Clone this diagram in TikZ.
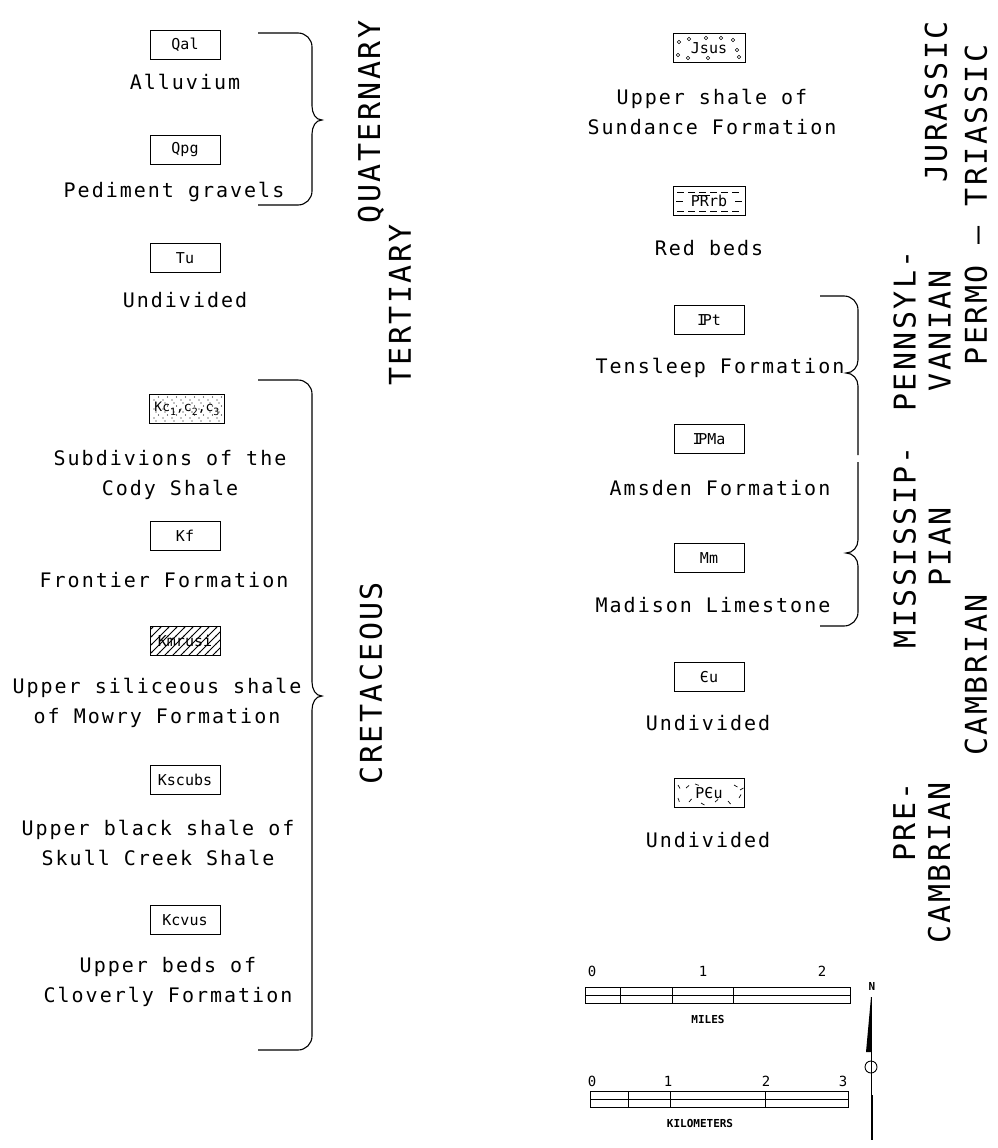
\documentclass[tikz,border=0pt]{standalone}
\usepackage{fontspec}
\setmainfont{DejaVu Sans}
\newfontfamily\descfont{DejaVu Sans Mono}[LetterSpace=10]
\newfontfamily\erafont{DejaVu Sans Mono}[LetterSpace=8]
\newfontfamily\tagfont{DejaVu Sans Mono}
\usetikzlibrary{positioning,patterns}

% fill patterns for the map-unit boxes
\pgfdeclarepatternformonly{stipple}{\pgfqpoint{-1pt}{-1pt}}{\pgfqpoint{10pt}{10pt}}{\pgfqpoint{9pt}{9pt}}{%
  \pgfpathcircle{\pgfqpoint{1pt}{1pt}}{0.55pt}%
  \pgfpathcircle{\pgfqpoint{5.5pt}{4pt}}{0.55pt}%
  \pgfpathcircle{\pgfqpoint{3pt}{7pt}}{0.55pt}%
  \pgfusepath{fill}}
\pgfdeclarepatternformonly{widehatch}{\pgfqpoint{-1pt}{-1pt}}{\pgfqpoint{9pt}{9pt}}{\pgfqpoint{8pt}{8pt}}{%
  \pgfsetlinewidth{0.8pt}%
  \pgfpathmoveto{\pgfqpoint{-0.5pt}{-0.5pt}}\pgfpathlineto{\pgfqpoint{8.5pt}{8.5pt}}%
  \pgfusepath{stroke}}

\newcommand{\lowidx}[1]{\raisebox{-0.3em}{\fontsize{10}{10}\selectfont #1}}
\newcommand{\trsym}{\makebox[0pt][l]{\kern-0.15em\rule[0.74em]{0.8em}{0.07em}}R}
\newcommand{\pennsym}{I\kern-0.22em P}

\begin{document}
\begin{tikzpicture}[x=1pt,y=-1pt,
  unitbox/.style={draw, line width=0.9pt, minimum width=70pt,
    minimum height=29pt, inner sep=1pt,
    font=\tagfont\fontsize{15}{15}\selectfont},
  desc/.style={align=center, inner sep=0pt,
    font=\descfont\fontsize{20}{30}\selectfont},
  era/.style={rotate=90, align=center, inner sep=0pt,
    font=\erafont\fontsize{30}{35}\selectfont},
  bracket/.style={line width=1.1pt},
  barline/.style={line width=0.9pt},
  scalelbl/.style={inner sep=0pt, font=\tagfont\fontsize{14}{14}\selectfont},
  barname/.style={inner sep=0pt, font=\tagfont\bfseries\fontsize{11}{11}\selectfont},
]

\useasboundingbox (0,0) rectangle (997,1148);

% Left column
\node[unitbox] (qal) at (185,45) {Qal};
\node[desc] (alluv) at (185,82) {Alluvium};
\node[unitbox] (qpg) at (185,150) {Qpg};
\node[desc] (pedim) at (174,192) {Pediment gravels};
\node[unitbox] (tu) at (185,258) {Tu};
\node[desc] (tund) at (185,300) {Undivided};
\node[unitbox, minimum width=75pt, inner sep=0pt, pattern=stipple,
  font=\tagfont\fontsize{13}{13}\selectfont] (kc) at (187,409)
  {Kc\lowidx{1},c\lowidx{2},c\lowidx{3}};
\node[desc] (cody) at (170,475) {Subdivions of the\\Cody Shale};
\node[unitbox] (kf) at (185,536) {Kf};
\node[desc] (front) at (164,580) {Frontier Formation};
\node[unitbox, pattern=widehatch] (kmrusi) at (185,641) {Kmrusi};
\node[desc] (mowry) at (157,703) {Upper siliceous shale\\of Mowry Formation};
\node[unitbox] (kscubs) at (185,780) {Kscubs};
\node[desc] (skull) at (158,843) {Upper black shale of\\Skull Creek Shale};
\node[unitbox] (kcvus) at (185,920) {Kcvus};
\node[desc] (clov) at (168,982) {Upper beds of\\Cloverly Formation};

% Right column
\node[unitbox, minimum width=72pt] (jsus) at (709,48) {Jsus};
\node[desc] (sund) at (712,112) {Upper shale of\\Sundance Formation};
\node[unitbox, minimum width=72pt] (prrb) at (709,201) {P\trsym rb};
\node[desc] (redb) at (709,248) {Red beds};
\node[unitbox] (ipt) at (709,320) {\pennsym t};
\node[desc] (tens) at (720,368) {Tensleep Formation};
\node[unitbox] (ipma) at (709,439) {\pennsym Ma};
\node[desc] (amsd) at (720,488) {Amsden Formation};
\node[unitbox] (mm) at (709,558) {Mm};
\node[desc] (madi) at (713,605) {Madison Limestone};
\node[unitbox] (cu) at (709,677) {Єu};
\node[desc] (cund) at (708,723) {Undivided};
\node[unitbox] (pcu) at (709,793) {PЄu};
\node[desc] (pcund) at (708,840) {Undivided};

% box ornaments
\foreach \dx/\dy in {-30/-6,-20/-9,-3/-10,12/-10,24/-8,-31/7,-21/10,-1/10,28/2,30/9}
  \draw[line width=0.6pt] ([shift={(\dx,\dy)}]jsus.center) circle (1.8);
\draw[line width=0.8pt, dash pattern=on 7pt off 4pt]
  ([shift={(-32,-9)}]prrb.center) -- ([shift={(32,-9)}]prrb.center);
\draw[line width=0.8pt, dash pattern=on 7pt off 4pt]
  ([shift={(-32,10)}]prrb.center) -- ([shift={(32,10)}]prrb.center);
\draw[line width=0.8pt] ([shift={(-33,0)}]prrb.center) -- ++(7,0);
\draw[line width=0.8pt] ([shift={(26,0)}]prrb.center) -- ++(7,0);
\foreach \dx/\dy/\ang in {-31/-8/60,-23/-5/-40,-31/5/70,-20/9/-50,-8/10/30,
    6/9/-40,19/8/50,30/5/-60,25/-8/30,31/-3/-30,-14/-9/20}
  \draw[line width=0.7pt] ([shift={(\dx,\dy)}]pcu.center) -- ++(\ang:4);

% Period brackets, left
\draw[bracket] (258,33) -- (298,33) to[out=0,in=90] (312,47) -- (312,106)
  to[out=-90,in=180] (322,120) to[out=180,in=90] (312,134) -- (312,191)
  to[out=-90,in=0] (298,205) -- (258,205);
\draw[bracket] (258,380) -- (298,380) to[out=0,in=90] (312,394) -- (312,682)
  to[out=-90,in=180] (322,696) to[out=180,in=90] (312,710) -- (312,1036)
  to[out=-90,in=0] (298,1050) -- (258,1050);

% Period brackets, right
\draw[bracket] (820,296) -- (844,296) to[out=0,in=90] (858,310) -- (858,360)
  to[out=-90,in=0] (846,373) to[out=0,in=90] (858,386) -- (858,455);
\draw[bracket] (858,462) -- (858,540) to[out=-90,in=0] (846,553)
  to[out=0,in=90] (858,566) -- (858,612) to[out=-90,in=0] (844,626) -- (820,626);

% Period names
\node[era] (quat) at (371,122) {QUATERNARY};
\node[era] (tert) at (400,305) {TERTIARY};
\node[era] (cret) at (371,683) {CRETACEOUS};
\node[era] (jura) at (936,102) {JURASSIC};
\node[era] (permtr) at (976,205) {PERMO – TRIASSIC};
\node[era] (penn) at (922,331) {PENNSYL-\\VANIAN};
\node[era] (miss) at (922,547) {MISSISSIP-\\PIAN};
\node[era] (camb) at (976,675) {CAMBRIAN};
\node[era, align=right] (precamb) at (922,863) {PRE-\\CAMBRIAN};

% Scale bars
\node[scalelbl] (m0) at (592,971) {0};
\node[scalelbl] (m1) at (703,971) {1};
\node[scalelbl] (m2) at (822,971) {2};
\draw[barline] (585,987) rectangle (850,1003);
\draw[barline] (585,995) -- (850,995);
\foreach \xx in {620,672,733}
  \draw[barline] (\xx,987) -- (\xx,1003);
\node[barname] (miles) at (708,1019) {MILES};

\node[scalelbl] (k0) at (592,1081) {0};
\node[scalelbl] (k1) at (668,1081) {1};
\node[scalelbl] (k2) at (766,1081) {2};
\node[scalelbl] (k3) at (843,1081) {3};
\draw[barline] (590,1091) rectangle (848,1107);
\draw[barline] (590,1099) -- (848,1099);
\foreach \xx in {628,670,765}
  \draw[barline] (\xx,1091) -- (\xx,1107);
\node[barname] (km) at (700,1123) {KILOMETERS};

% North arrow
\node[barname] (north) at (872,986) {N};
\fill (871,997) -- (866,1052) -- (871,1052) -- cycle;
\draw[line width=0.8pt] (871,997) -- (871,1140);
\draw[line width=0.9pt] (871,1067) circle (6);
\draw[line width=2pt] (872,1095) -- (872,1140);

\end{tikzpicture}
\end{document}
